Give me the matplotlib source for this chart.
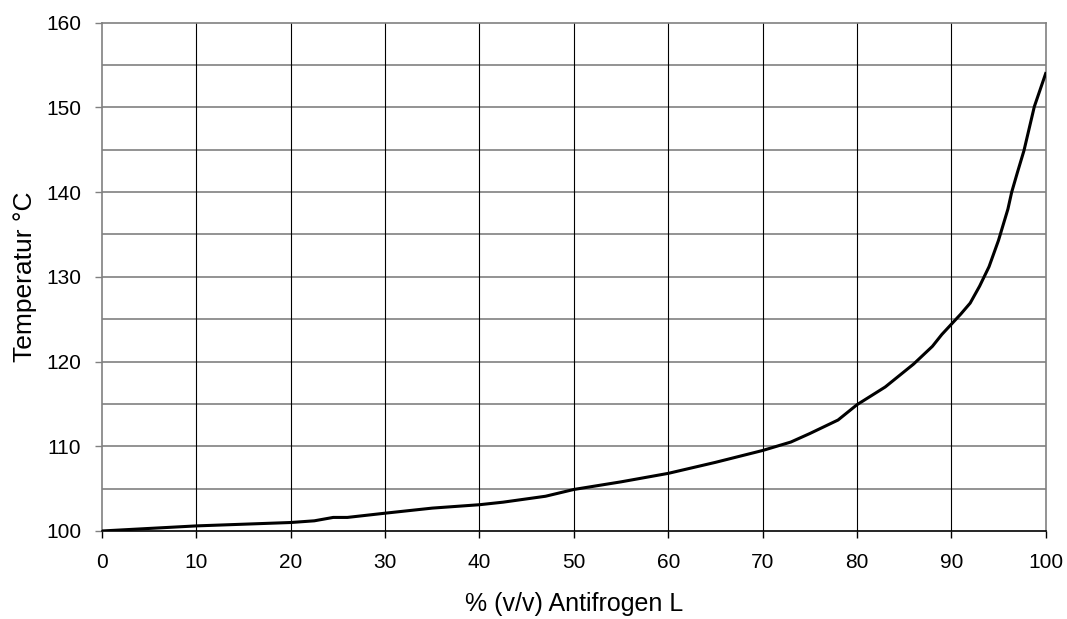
import matplotlib.pyplot as plt
import numpy as np

plt.rcParams['font.family'] = ['Liberation Sans', 'DejaVu Sans']

# % (v/v) Antifrogen L vs boiling temperature
conc = [0, 5, 10, 15, 20, 22.5, 24.5, 26, 30, 35, 40, 42.5, 47, 50, 55, 60, 65, 70,
        73, 75, 78, 80, 83, 86, 88, 89, 90, 91, 92, 93, 94, 95, 96, 96.4, 97, 97.7,
        98.8, 100]
temp = [100, 100.3, 100.6, 100.8, 101.0, 101.2, 101.6, 101.6, 102.1, 102.7, 103.1, 103.4,
        104.1, 104.9, 105.8, 106.8, 108.1, 109.5, 110.5, 111.5, 113.1, 114.9, 117.0,
        119.7, 121.8, 123.2, 124.4, 125.6, 126.9, 128.9, 131.2, 134.3, 138.0, 140.0,
        142.3, 144.9, 150.1, 154.0]

xticks = np.arange(0, 101, 10)
yticks = np.arange(100, 161, 10)

fig = plt.figure(figsize=(10.67, 6.19), dpi=100)
ax = fig.add_axes([0.0956, 0.1422, 0.8844, 0.8211])

# grid: horizontal every 5 (gray), vertical every 10 (black)
for y in np.arange(105, 160, 5):
    ax.axhline(y, color='#808080', lw=1.2, zorder=1)
for x in xticks[1:-1]:
    ax.axvline(x, color='black', lw=0.8, zorder=1)

ax.plot(conc, temp, color='black', lw=2.2, zorder=3, solid_joinstyle='round')

ax.set_xlim(0, 100)
ax.set_ylim(100, 160)
ax.set_xticks(xticks)
ax.set_yticks(yticks)
ax.tick_params(direction='out', length=5, width=1, labelsize=15, colors='black')
ax.tick_params(axis='x', pad=11)
ax.tick_params(axis='y', color='#808080', pad=10)

for s in ['top', 'right', 'left']:
    ax.spines[s].set_color('#808080')
    ax.spines[s].set_linewidth(1.2)
ax.spines['bottom'].set_color('black')
ax.spines['bottom'].set_linewidth(1.2)

ax.set_xlabel('% (v/v) Antifrogen L', fontsize=18)
ax.set_ylabel('Temperatur °C', fontsize=19)
ax.xaxis.set_label_coords(0.5, -0.121)
ax.yaxis.set_label_coords(-0.069, 0.5)

fig.savefig('out.png', dpi=100)
